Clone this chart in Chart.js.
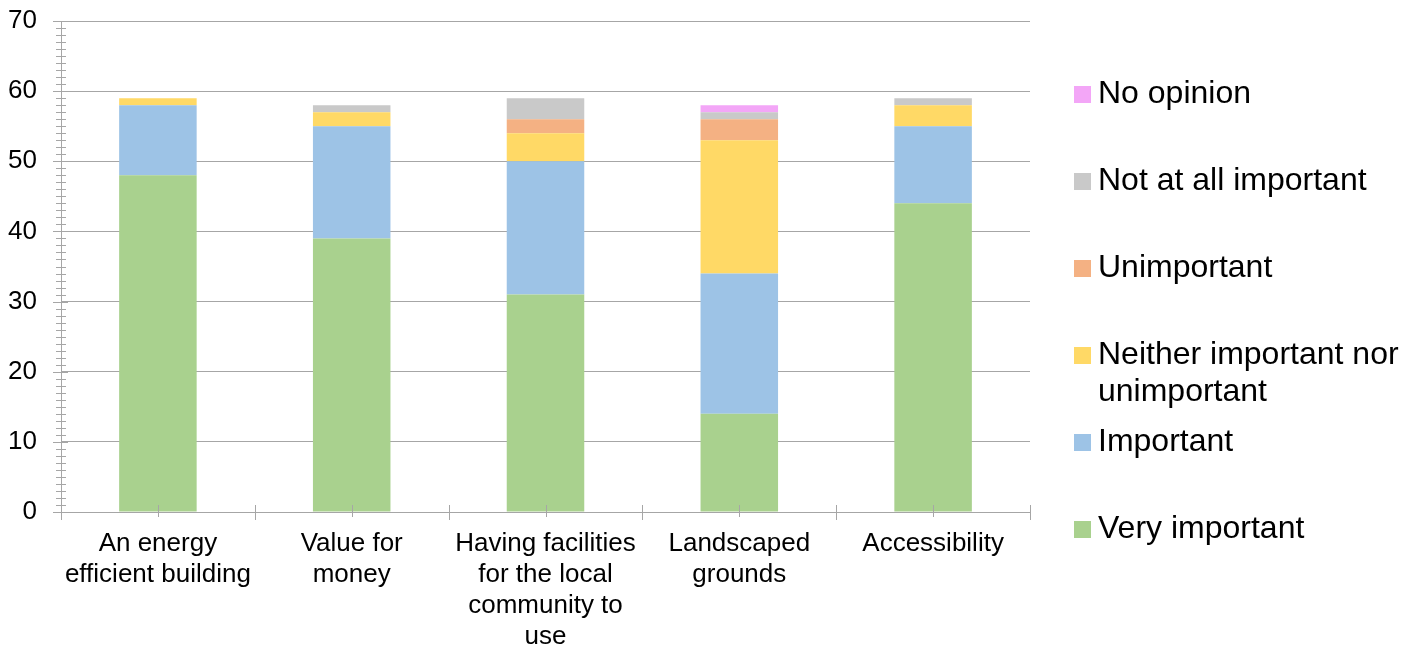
<!DOCTYPE html>
<html>
<head>
<meta charset="utf-8">
<script src="https://cdn.jsdelivr.net/npm/chart.js@4.4.1/dist/chart.umd.min.js"></script>
<style>
  html, body { margin: 0; padding: 0; background: #fff; }
  #wrap { width: 1416px; height: 645px; }
</style>
</head>
<body>
<div id="wrap"><canvas id="surveyCanvas" width="1416" height="645"></canvas></div>
<script>
const categories = [
  ['An energy', 'efficient building'],
  ['Value for', 'money'],
  ['Having facilities', 'for the local', 'community to', 'use'],
  ['Landscaped', 'grounds'],
  ['Accessibility']
]
const veryImportant = [48, 39, 31, 14, 44]
const important = [10, 16, 19, 20, 11]
const neither = [1, 2, 4, 19, 3]
const unimportant = [0, 0, 2, 3, 0]
const notAtAll = [0, 1, 3, 1, 1]
const noOpinion = [0, 0, 0, 1, 0]
const yTicks = [0, 10, 20, 30, 40, 50, 60, 70]

const axisGrey = '#a6a6a6'
const font = "'Liberation Sans', Arial, sans-serif"

// tick marks like the spreadsheet: crossing the axes, minor every unit
const axisTicks = {
  id: 'axisTicks',
  afterDraw(chart) {
    const { ctx, scales: { x, y } } = chart
    ctx.save()
    ctx.strokeStyle = axisGrey
    ctx.lineWidth = 1
    ctx.beginPath()
    for (let v = 0; v <= 70; v++) {
      const py = Math.round(y.getPixelForValue(v)) + 0.5
      const major = v % 10 === 0
      ctx.moveTo(x.left - (major ? 8 : 5), py)
      ctx.lineTo(x.left + (major ? 7 : 5), py)
    }
    const step = (x.right - x.left) / categories.length
    for (let i = 0; i <= categories.length; i++) {
      const px = Math.round(x.left + step * i) + 0.5
      ctx.moveTo(px, y.bottom - 7)
      ctx.lineTo(px, y.bottom + 8)
    }
    for (let i = 0; i < categories.length; i++) {
      const px = Math.round(x.getPixelForValue(i)) + 0.5
      ctx.moveTo(px, y.bottom - 7)
      ctx.lineTo(px, y.bottom + 5)
    }
    ctx.stroke()
    ctx.restore()
  }
}

// legend on the right, top item first, fixed row pitch
const sideLegend = {
  id: 'sideLegend',
  afterDraw(chart) {
    const { ctx } = chart
    const sets = chart.data.datasets.slice().reverse()
    ctx.save()
    ctx.font = '32px ' + font
    ctx.fillStyle = '#000'
    ctx.textBaseline = 'middle'
    sets.forEach((ds, i) => {
      const cy = 94 + 87 * i
      ctx.fillStyle = ds.backgroundColor
      ctx.fillRect(1074, cy - 8, 17, 17)
      ctx.fillStyle = '#000'
      const lines = Array.isArray(ds.legendText) ? ds.legendText : [ds.label]
      lines.forEach((t, k) => ctx.fillText(t, 1098, cy + k * 37))
    })
    ctx.restore()
  }
}

const ctx = document.getElementById('surveyCanvas')

const surveyChart = new Chart(ctx, {
  type: 'bar',
  data: {
    labels: categories,
    datasets: [
      { label: 'Very important', data: veryImportant, backgroundColor: '#a9d18e' },
      { label: 'Important', data: important, backgroundColor: '#9dc3e6' },
      { label: 'Neither important nor unimportant', legendText: ['Neither important nor', 'unimportant'], data: neither, backgroundColor: '#ffd966' },
      { label: 'Unimportant', data: unimportant, backgroundColor: '#f4b183' },
      { label: 'Not at all important', data: notAtAll, backgroundColor: '#c9c9c9' },
      { label: 'No opinion', data: noOpinion, backgroundColor: '#f3a6f7' }
    ]
  },
  options: {
    responsive: false,
    animation: false,
    layout: { padding: { top: 0, right: 386, bottom: 0, left: 0 } },
    datasets: { bar: { barPercentage: 0.4, categoryPercentage: 1.0, borderWidth: 0 } },
    plugins: {
      legend: { display: false },
      tooltip: { enabled: false }
    },
    scales: {
      x: {
        stacked: true,
        offset: true,
        grid: { display: true, drawOnChartArea: false, drawTicks: false, color: axisGrey },
        border: { display: true, color: axisGrey, width: 1 },
        ticks: {
          color: '#000',
          font: { family: font, size: 26, lineHeight: 1.2 },
          padding: 16,
          maxRotation: 0,
          autoSkip: false
        },
        afterFit: s => { s.height = 133 }
      },
      y: {
        stacked: true,
        min: 0,
        max: 70,
        afterBuildTicks: s => { s.ticks = yTicks.map(v => ({ value: v })) },
        grid: { color: axisGrey, lineWidth: 1, drawTicks: false },
        border: { display: true, color: axisGrey, width: 1 },
        ticks: {
          color: '#000',
          font: { family: font, size: 26 },
          padding: 24
        },
        afterFit: s => {
          s.width = 61
          s.paddingTop = 21
          s.paddingBottom = 0
        }
      }
    }
  },
  plugins: [axisTicks, sideLegend]
})
</script>
</body>
</html>
